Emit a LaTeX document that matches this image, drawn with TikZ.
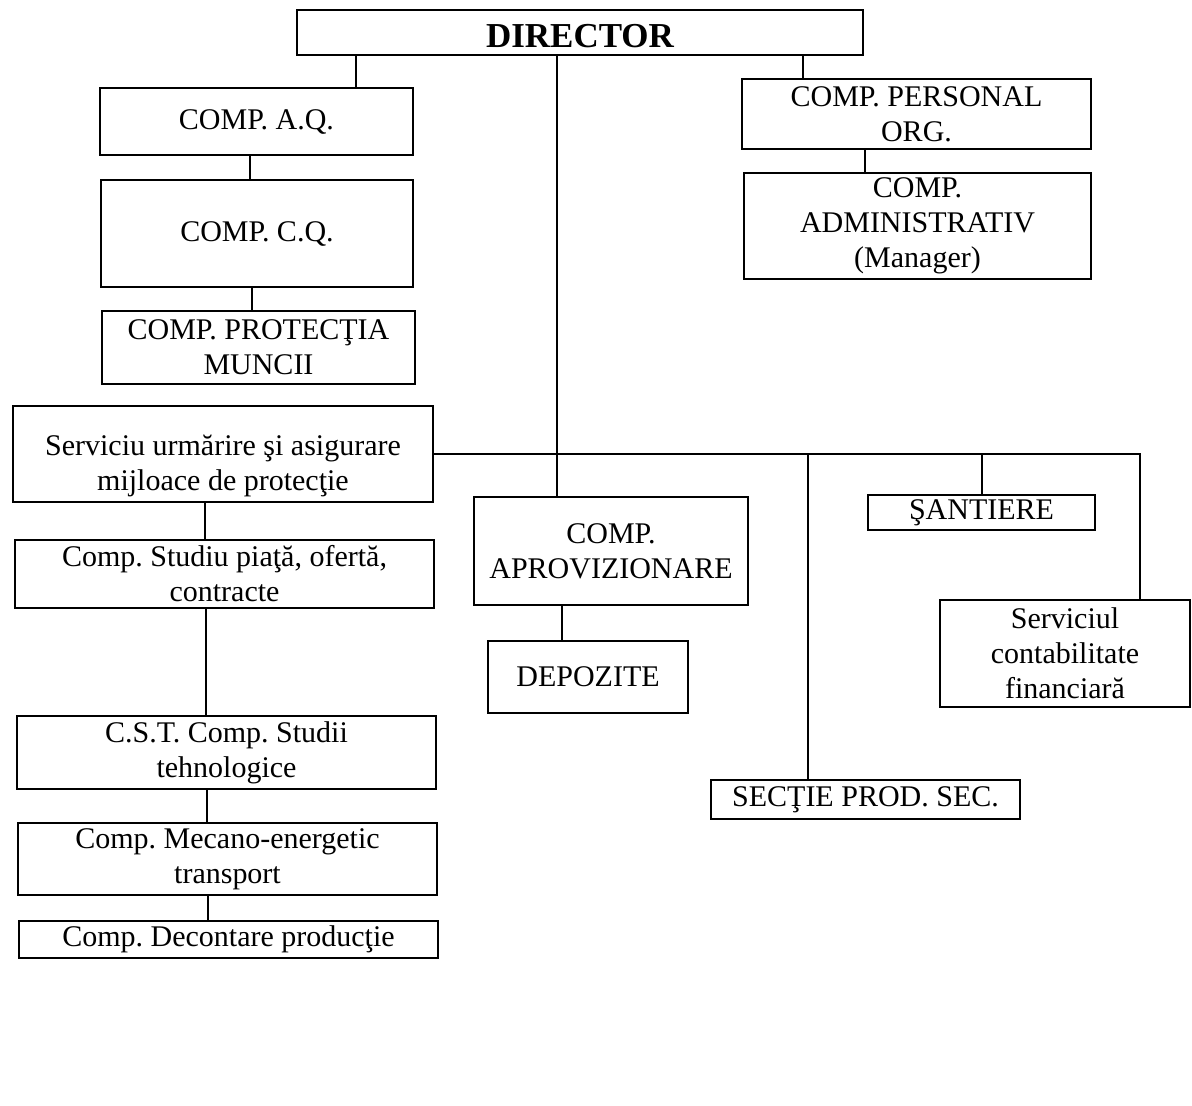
\documentclass[tikz,border=0pt]{standalone}
\usepackage{fontspec}
\setmainfont{Liberation Serif}
\frenchspacing
\begin{document}
\begin{tikzpicture}[x=1pt,y=-1pt,
  box/.style={draw, line width=1.6pt, inner sep=0pt, align=center,
              font=\fontsize{30}{35}\selectfont},
  link/.style={line width=1.3pt}]
\useasboundingbox (0,0) rectangle (1192,1106);
\fill[white] (0,0) rectangle (1192,1106);

% top
\node[box, minimum width=566pt, minimum height=45pt,
      font=\fontsize{35}{40}\selectfont\bfseries] (dir) at (580,32.5) {\rule{0pt}{30pt}DIRECTOR};

% left column
\node[box, minimum width=313pt, minimum height=67pt] (aq) at (256.5,121.5) {COMP. A.Q.};
\node[box, minimum width=312pt, minimum height=107pt] (cq) at (257,233.5) {COMP. C.Q.};
\node[box, minimum width=313pt, minimum height=73pt] (prot) at (258.5,347.5) {COMP. PROTECŢIA\\MUNCII};
\node[box, minimum width=420pt, minimum height=96pt] (serv) at (223,454) {\rule{0pt}{44pt}Serviciu urmărire şi asigurare\\mijloace de protecţie};
\node[box, minimum width=419pt, minimum height=68pt] (piata) at (224.5,574) {Comp. Studiu piaţă, ofertă,\\contracte};
\node[box, minimum width=419pt, minimum height=73pt] (cst) at (226.5,752.5) {C.S.T. Comp. Studii\\tehnologice};
\node[box, minimum width=419pt, minimum height=72pt] (mec) at (227.5,859) {Comp. Mecano-energetic\\transport};
\node[box, minimum width=419pt, minimum height=37pt] (dec) at (228.5,939.5) {Comp. Decontare producţie};

% right top
\node[box, minimum width=349pt, minimum height=70pt] (pers) at (916.5,114) {COMP. PERSONAL\\ORG.};
\node[box, minimum width=347pt, minimum height=106pt] (adm) at (917.5,226) {COMP.\\ADMINISTRATIV\\(Manager)};

% middle / right
\node[box, minimum width=274pt, minimum height=108pt] (aprov) at (611,551) {COMP.\\APROVIZIONARE};
\node[box, minimum width=200pt, minimum height=72pt] (dep) at (588,677) {DEPOZITE};
\node[box, minimum width=227pt, minimum height=35pt] (sant) at (981.5,512.5) {ŞANTIERE};
\node[box, minimum width=250pt, minimum height=107pt] (cont) at (1065,653.5) {Serviciul\\contabilitate\\financiară};
\node[box, minimum width=309pt, minimum height=39pt] (sect) at (865.5,799.5) {SECŢIE PROD. SEC.};

% connector guide coordinates
\coordinate (xaq) at (356,0);
\coordinate (xpers) at (803,0);
\coordinate (xadm) at (865,0);
\coordinate (xcq) at (250,0);
\coordinate (xprot) at (252,0);
\coordinate (xpiata) at (205,0);
\coordinate (xcst) at (206,0);
\coordinate (xmec) at (207,0);
\coordinate (xdec) at (208,0);
\coordinate (xdir) at (557,0);
\coordinate (xdep) at (562,0);
\coordinate (busR) at (1140,454);
\coordinate (bsect) at (808,454);
\coordinate (bsant) at (982,454);

% connectors
\draw[link] (dir.south -| xaq) -- (aq.north -| xaq);
\draw[link] (dir.south -| xpers) -- (pers.north -| xpers);
\draw[link] (pers.south -| xadm) -- (adm.north -| xadm);
\draw[link] (aq.south -| xcq) -- (cq.north -| xcq);
\draw[link] (cq.south -| xprot) -- (prot.north -| xprot);
\draw[link] (serv.south -| xpiata) -- (piata.north -| xpiata);
\draw[link] (piata.south -| xcst) -- (cst.north -| xcst);
\draw[link] (cst.south -| xmec) -- (mec.north -| xmec);
\draw[link] (mec.south -| xdec) -- (dec.north -| xdec);
\draw[link] (dir.south -| xdir) -- (aprov.north -| xdir);
\draw[link] (aprov.south -| xdep) -- (dep.north -| xdep);
\draw[link] (serv.east) -- (busR) -- (busR |- cont.north);
\draw[link] (bsect) -- (sect.north -| bsect);
\draw[link] (bsant) -- (sant.north -| bsant);
\end{tikzpicture}
\end{document}
